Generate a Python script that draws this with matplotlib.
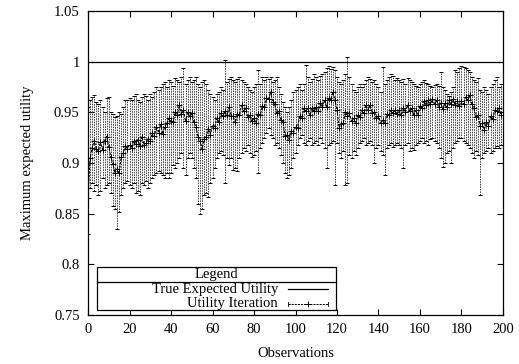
import matplotlib

matplotlib.use("Agg")
import matplotlib.pyplot as plt
import numpy as np
from matplotlib.lines import Line2D
from matplotlib.patches import Rectangle

# observations 0..199, mean with lower / upper error bar ends
obs = np.arange(200)

mean = [
    0.865, 0.905, 0.915, 0.922, 0.914, 0.912, 0.921, 0.913, 0.922, 0.926,
    0.916, 0.906, 0.899, 0.890, 0.894, 0.890, 0.906, 0.910, 0.917, 0.914,
    0.918, 0.915, 0.922, 0.919, 0.923, 0.917, 0.926, 0.918, 0.920, 0.924,
    0.922, 0.930, 0.927, 0.936, 0.930, 0.938, 0.929, 0.936, 0.939, 0.944,
    0.941, 0.940, 0.950, 0.947, 0.957, 0.948, 0.952, 0.941, 0.950, 0.946,
    0.949, 0.940, 0.936, 0.926, 0.922, 0.914, 0.924, 0.926, 0.934, 0.928,
    0.937, 0.935, 0.944, 0.940, 0.949, 0.946, 0.951, 0.947, 0.955, 0.946,
    0.946, 0.940, 0.948, 0.947, 0.957, 0.951, 0.954, 0.945, 0.947, 0.941,
    0.944, 0.939, 0.948, 0.947, 0.956, 0.955, 0.964, 0.963, 0.970, 0.960,
    0.958, 0.949, 0.951, 0.942, 0.940, 0.927, 0.928, 0.923, 0.932, 0.930,
    0.936, 0.935, 0.946, 0.944, 0.954, 0.951, 0.954, 0.947, 0.954, 0.951,
    0.955, 0.951, 0.959, 0.955, 0.962, 0.955, 0.964, 0.962, 0.970, 0.962,
    0.952, 0.935, 0.938, 0.939, 0.950, 0.946, 0.949, 0.941, 0.944, 0.939,
    0.947, 0.945, 0.952, 0.949, 0.957, 0.952, 0.957, 0.949, 0.950, 0.944,
    0.946, 0.939, 0.942, 0.939, 0.948, 0.947, 0.952, 0.949, 0.952, 0.948,
    0.952, 0.947, 0.954, 0.950, 0.957, 0.951, 0.954, 0.947, 0.952, 0.947,
    0.956, 0.954, 0.961, 0.957, 0.962, 0.958, 0.963, 0.958, 0.962, 0.955,
    0.959, 0.953, 0.959, 0.955, 0.962, 0.958, 0.963, 0.957, 0.961, 0.956,
    0.961, 0.958, 0.965, 0.962, 0.967, 0.958, 0.954, 0.945, 0.947, 0.937,
    0.939, 0.933, 0.940, 0.937, 0.946, 0.943, 0.952, 0.951, 0.954, 0.947,
]

upper = [
    0.955, 0.962, 0.965, 0.967, 0.960, 0.958, 0.962, 0.955, 0.950, 0.964,
    0.965, 0.950, 0.948, 0.945, 0.946, 0.950, 0.948, 0.955, 0.962, 0.962,
    0.964, 0.962, 0.966, 0.968, 0.962, 0.960, 0.965, 0.968, 0.966, 0.962,
    0.968, 0.965, 0.970, 0.975, 0.972, 0.975, 0.978, 0.980, 0.975, 0.982,
    0.980, 0.976, 0.984, 0.982, 0.980, 0.985, 0.994, 0.978, 0.982, 0.985,
    0.980, 0.982, 0.985, 0.978, 0.975, 0.980, 0.982, 0.978, 0.972, 0.968,
    0.965, 0.962, 0.968, 0.970, 0.975, 0.972, 1.002, 0.980, 0.983, 0.985,
    0.982, 0.980, 0.983, 0.985, 0.982, 0.980, 0.978, 0.975, 0.972, 0.970,
    0.975, 0.978, 0.992, 0.978, 0.985, 0.982, 0.985, 0.983, 0.985, 0.980,
    0.982, 0.985, 0.975, 0.968, 0.960, 0.955, 0.950, 0.955, 0.962, 0.970,
    0.972, 0.975, 0.978, 0.972, 0.978, 0.997, 0.985, 0.980, 0.983, 0.988,
    0.985, 0.982, 0.986, 0.988, 0.990, 0.994, 0.996, 0.993, 0.995, 0.992,
    0.985, 0.980, 0.978, 0.982, 0.988, 1.005, 0.985, 0.978, 0.972, 0.970,
    0.975, 0.978, 0.975, 0.978, 0.982, 0.985, 0.983, 0.980, 0.982, 0.978,
    0.975, 0.970, 0.995, 0.978, 0.982, 0.985, 0.988, 0.986, 0.982, 0.984,
    0.982, 0.980, 0.983, 0.978, 0.984, 0.982, 0.980, 0.978, 0.976, 0.975,
    0.978, 0.980, 0.982, 0.979, 0.978, 0.976, 0.975, 0.977, 0.978, 0.976,
    0.990, 0.975, 0.972, 0.968, 0.966, 0.970, 0.975, 0.992, 0.990, 0.994,
    0.996, 0.995, 0.994, 0.992, 0.990, 0.985, 0.982, 0.980, 0.984, 0.972,
    0.970, 0.975, 0.972, 0.968, 0.975, 0.978, 0.982, 0.985, 0.975, 0.978,
]

lower = [
    0.830, 0.875, 0.880, 0.872, 0.878, 0.868, 0.872, 0.885, 0.875, 0.878,
    0.880, 0.870, 0.858, 0.855, 0.835, 0.852, 0.868, 0.875, 0.880, 0.882,
    0.878, 0.875, 0.880, 0.870, 0.872, 0.868, 0.880, 0.878, 0.882, 0.875,
    0.880, 0.885, 0.888, 0.890, 0.892, 0.890, 0.888, 0.885, 0.890, 0.885,
    0.890, 0.898, 0.895, 0.900, 0.905, 0.910, 0.895, 0.888, 0.905, 0.910,
    0.905, 0.895, 0.885, 0.860, 0.850, 0.855, 0.868, 0.870, 0.866, 0.880,
    0.885, 0.895, 0.905, 0.910, 0.912, 0.908, 0.880, 0.905, 0.898, 0.905,
    0.893, 0.895, 0.892, 0.905, 0.910, 0.915, 0.912, 0.918, 0.910, 0.906,
    0.908, 0.912, 0.890, 0.915, 0.920, 0.925, 0.930, 0.935, 0.928, 0.925,
    0.918, 0.920, 0.915, 0.908, 0.900, 0.890, 0.885, 0.888, 0.895, 0.905,
    0.910, 0.918, 0.925, 0.928, 0.920, 0.918, 0.922, 0.925, 0.918, 0.920,
    0.922, 0.918, 0.925, 0.920, 0.915, 0.895, 0.918, 0.920, 0.922, 0.878,
    0.920, 0.910, 0.905, 0.912, 0.878, 0.880, 0.908, 0.905, 0.912, 0.908,
    0.915, 0.920, 0.922, 0.925, 0.918, 0.920, 0.922, 0.918, 0.900, 0.915,
    0.918, 0.912, 0.908, 0.888, 0.915, 0.918, 0.920, 0.916, 0.918, 0.920,
    0.918, 0.915, 0.895, 0.918, 0.920, 0.912, 0.915, 0.913, 0.918, 0.920,
    0.922, 0.925, 0.920, 0.922, 0.918, 0.924, 0.925, 0.922, 0.920, 0.915,
    0.905, 0.896, 0.900, 0.910, 0.912, 0.900, 0.915, 0.920, 0.922, 0.925,
    0.925, 0.922, 0.920, 0.918, 0.915, 0.910, 0.905, 0.912, 0.908, 0.868,
    0.905, 0.910, 0.912, 0.915, 0.910, 0.912, 0.915, 0.917, 0.915, 0.918,
]

true_utility = 1.0
xticks = [0, 20, 40, 60, 80, 100, 120, 140, 160, 180, 200]
yticks = [0.75, 0.8, 0.85, 0.9, 0.95, 1.0, 1.05]
ytick_labels = ["0.75", "0.8", "0.85", "0.9", "0.95", "1", "1.05"]

plt.rcParams["font.family"] = ["Liberation Serif", "DejaVu Serif"]
plt.rcParams["font.size"] = 10.5

fig = plt.figure(figsize=(5.19, 3.64), dpi=100)
ax = fig.add_axes([88 / 519, 49 / 364, 415 / 519, 304 / 364])

mean_a = np.array(mean)
yerr = [mean_a - np.array(lower), np.array(upper) - mean_a]

ax.plot([obs[0], 200], [true_utility, true_utility], color="k", lw=0.9)

dash = (0, (1.6, 1.0))
_, caps, bars = ax.errorbar(obs, mean_a, yerr=yerr, fmt="+", color="k",
                            ms=4, mew=0.7, elinewidth=0.7, capsize=1.1,
                            capthick=0.6)
for b in bars:
    b.set_linestyle(dash)
    b.set_color("#444444")
ax.plot(obs, mean_a, color="k", lw=0.8, ls=(0, (2.2, 1.0)))

ax.set_xlim(0, 200)
ax.set_ylim(0.75, 1.05)
ax.set_xticks(xticks)
ax.set_yticks(yticks)
ax.set_yticklabels(ytick_labels)
ax.tick_params(direction="in", top=True, right=True, length=4, width=0.8,
               pad=6)
for s in ax.spines.values():
    s.set_linewidth(0.9)
ax.set_xlabel("Observations", labelpad=8)
ax.set_ylabel("Maximum expected utility", labelpad=14)

# gnuplot-style boxed legend with a title row
tr = ax.transAxes
x0, x1 = 9 / 415, 248 / 415
y0, y1 = 5 / 304, 48 / 304
ydiv = 33 / 304
ax.add_patch(Rectangle((x0, y0), x1 - x0, y1 - y0, transform=tr,
                       facecolor="white", edgecolor="k", lw=0.9, zorder=5))
ax.add_line(Line2D([x0, x1], [ydiv, ydiv], transform=tr, color="k",
                   lw=0.9, zorder=6))
ax.text((x0 + x1) / 2, (ydiv + y1) / 2, "Legend", transform=tr,
        ha="center", va="center", zorder=7)
tx = 190 / 415
sx0, sx1 = 200 / 415, 240 / 415
ry1, ry2 = 26 / 304, 11 / 304
ax.text(tx, ry1, "True Expected Utility", transform=tr, ha="right",
        va="center", zorder=7)
ax.add_line(Line2D([sx0, sx1], [ry1, ry1], transform=tr, color="k",
                   lw=0.9, zorder=7))
ax.text(tx, ry2, "Utility Iteration", transform=tr, ha="right",
        va="center", zorder=7)
ax.add_line(Line2D([sx0, sx1], [ry2, ry2], transform=tr, color="k",
                   lw=0.7, ls=(0, (2.2, 1.0)), zorder=7))
ax.add_line(Line2D([(sx0 + sx1) / 2], [ry2], transform=tr, color="k",
                   marker="+", ms=4, mew=0.7, zorder=7))
for xe in (sx0, sx1):
    ax.add_line(Line2D([xe, xe], [ry2 - 0.008, ry2 + 0.008], transform=tr,
                       color="k", lw=0.6, zorder=7))

fig.savefig("out.png", dpi=100)
